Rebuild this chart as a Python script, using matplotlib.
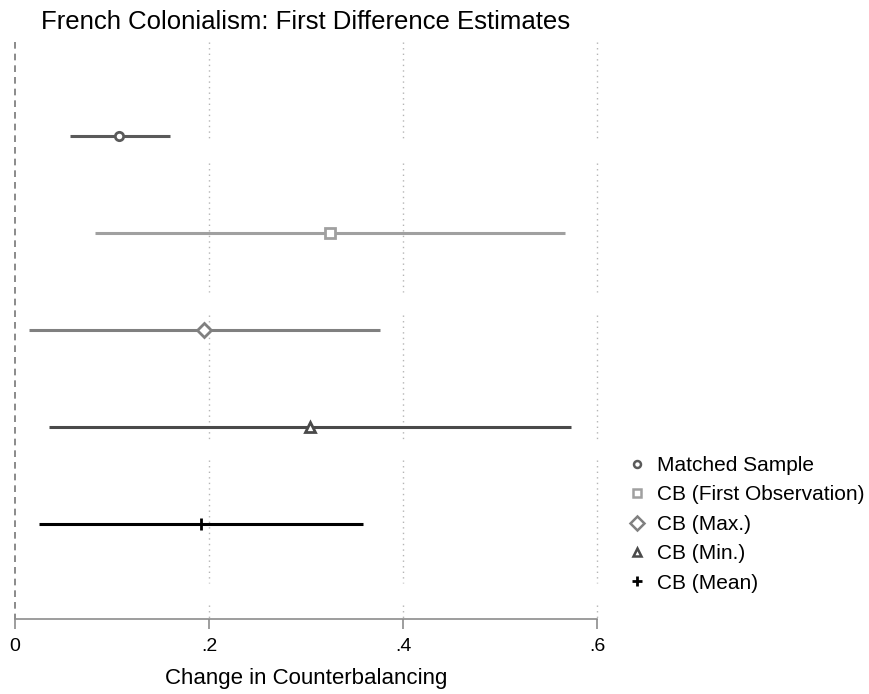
import matplotlib.pyplot as plt
from matplotlib.lines import Line2D

plt.rcParams['font.family'] = ['Liberation Sans', 'DejaVu Sans']

# estimates
labels = ["Matched Sample", "CB (First Observation)", "CB (Max.)", "CB (Min.)", "CB (Mean)"]
estimates = [0.107, 0.325, 0.195, 0.304, 0.192]
ci_low = [0.057, 0.082, 0.014, 0.035, 0.025]
ci_high = [0.160, 0.567, 0.376, 0.573, 0.359]
rows = [1, 2, 3, 4, 5]

xticks = [0, 0.2, 0.4, 0.6]
xticklabels = ["0", ".2", ".4", ".6"]

# styling
colors = ["#5a5a5a", "#a0a0a0", "#808080", "#4a4a4a", "#000000"]
markers = ["o", "s", "D", "^", "+"]
msizes = [6, 7, 7, 7, 9]
legend_msizes = [5, 6, 7, 6, 7]

fig = plt.figure(figsize=(8.69, 6.94), dpi=100)
ax = fig.add_axes([0.0173, 0.108, 0.6697, 0.8315])

ax.set_xlim(0, 0.6)
ax.set_ylim(5.98, 0.03)

# dotted grid, broken in places like the original
grid_segments = [(0.03, 1.062), (1.278, 2.608), (2.845, 4.134), (4.34, 5.608), (5.835, 5.98)]
for gx in xticks[1:]:
    for y0, y1 in grid_segments:
        ax.plot([gx, gx], [y0, y1], ls=(0, (1, 3)), color="#b5b5b5", lw=1.0, clip_on=False, zorder=1)

# reference line at zero
ax.plot([0, 0], [0.03, 5.98], ls=(0, (4, 3)), color="#777777", lw=1.2, clip_on=False, zorder=2)

for i in range(len(labels)):
    ax.plot([ci_low[i], ci_high[i]], [rows[i], rows[i]], color=colors[i], lw=2.2, zorder=3,
            solid_capstyle="butt")
    if markers[i] == "+":
        ax.plot(estimates[i], rows[i], marker="+", color=colors[i], ms=msizes[i], mew=2, zorder=4)
    else:
        ax.plot(estimates[i], rows[i], marker=markers[i], mfc="white", mec=colors[i],
                ms=msizes[i], mew=2, zorder=4, ls="none")

for s in ["left", "top", "right"]:
    ax.spines[s].set_visible(False)
ax.spines["bottom"].set_color("#8c8c8c")
ax.spines["bottom"].set_linewidth(1.2)
ax.set_yticks([])
ax.set_xticks(xticks)
ax.set_xticklabels(xticklabels, fontsize=14)
ax.tick_params(axis="x", length=7, width=1.2, color="#8c8c8c", pad=7)
ax.set_xlabel("Change in Counterbalancing", fontsize=16, labelpad=9)
ax.set_title("French Colonialism: First Difference Estimates", fontsize=18.5, pad=9)

handles = []
for i in range(len(labels)):
    if markers[i] == "+":
        h = Line2D([], [], marker="+", color=colors[i], ms=legend_msizes[i], mew=2, ls="none")
    else:
        h = Line2D([], [], marker=markers[i], mfc="white", mec=colors[i], ms=legend_msizes[i],
                   mew=1.8, ls="none")
    handles.append(h)
fig.legend(handles, labels, loc="upper left", bbox_to_anchor=(0.711, 0.355), frameon=False,
           fontsize=15, handlelength=1.0, handletextpad=0.5, labelspacing=0.5,
           borderaxespad=0)

fig.savefig("out.png", dpi=100)
